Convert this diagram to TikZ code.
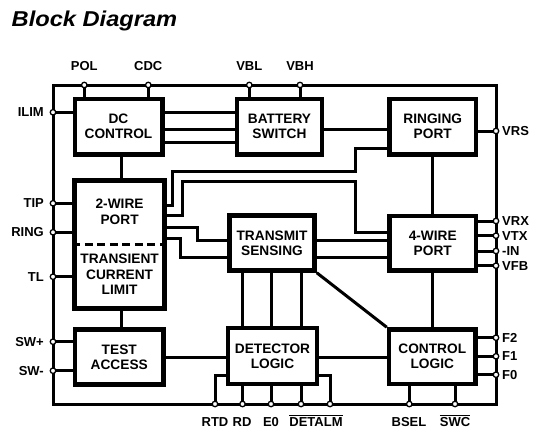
\documentclass[tikz,border=0pt]{standalone}
\usepackage{fontspec}
\setmainfont{Liberation Sans}
\newfontfamily\titlefont[FakeStretch=1.1]{Liberation Sans}
\begin{document}
\begin{tikzpicture}[x=1pt,y=-1pt,
  frame/.style={line width=3pt},
  wire/.style={line width=3pt},
  blk/.style={draw,line width=4.5pt,align=center,inner sep=0pt,
    font=\fontsize{13.7}{15}\selectfont\bfseries},
  blktext/.style={align=center,inner sep=0pt,font=\fontsize{13.7}{15.5}\selectfont\bfseries},
  pin/.style={circle,draw,fill=white,line width=1.3pt,inner sep=0pt,minimum size=5.5pt},
  lab/.style={inner sep=0pt,font=\fontsize{13}{15}\selectfont\bfseries}]
\useasboundingbox (0,0) rectangle (541,439);

% title
\node[anchor=base west,inner sep=0pt,font=\titlefont\fontsize{21.5}{24}\selectfont\bfseries\itshape] (title) at (11.5,26.7) {Block Diagram};

% frame
\node[draw,frame,minimum width=443pt,minimum height=319pt,inner sep=0pt,outer sep=0pt] (chip) at (274.5,244.5) {};

% blocks
\node[blk,minimum width=87.5pt,minimum height=55.5pt] (dc) at (118.5,126.5) {DC\\CONTROL};
\node[blk,minimum width=85pt,minimum height=55.5pt] (bs) at (279.5,126.5) {BATTERY\\SWITCH};
\node[blk,minimum width=86.5pt,minimum height=55.5pt] (rp) at (432.75,126.5) {RINGING\\PORT};
\node[blk,minimum width=90pt,minimum height=128pt] (tw) at (119.6,244.4) {};
\node[blktext] (twt) at (119.6,212) {2-WIRE\\PORT};
\node[blktext] (tcl) at (119.6,274.5) {TRANSIENT\\CURRENT\\LIMIT};
\node[blk,minimum width=88.5pt,minimum height=55pt] (ta) at (119.25,357) {TEST\\ACCESS};
\node[blk,minimum width=85pt,minimum height=55pt] (ts) at (272,243) {TRANSMIT\\SENSING};
\node[blk,minimum width=86.5pt,minimum height=54.5pt] (fw) at (432.75,243.25) {4-WIRE\\PORT};
\node[blk,minimum width=89pt,minimum height=56pt] (dl) at (272.5,356) {DETECTOR\\LOGIC};
\node[blk,minimum width=86.5pt,minimum height=54.5pt] (cl) at (432.25,356.75) {CONTROL\\LOGIC};
\draw[line width=3pt,dash pattern=on 8pt off 4.5pt] (tw.west |- 0,244) -- (tw.east |- 0,244);

% pins (coordinates)
\coordinate (pol) at (84.3,85);
\coordinate (cdc) at (148.3,85);
\coordinate (vbl) at (249.3,85);
\coordinate (vbh) at (300,85);
\coordinate (ilim) at (53,112.3);
\coordinate (tip) at (53,203.3);
\coordinate (ring) at (53,232.3);
\coordinate (tl) at (53,276.7);
\coordinate (swp) at (53,341.7);
\coordinate (swm) at (53,370.7);
\coordinate (vrs) at (496,131);
\coordinate (vrx) at (496,221);
\coordinate (vtx) at (496,235.7);
\coordinate (nin) at (496,251);
\coordinate (vfb) at (496,265.7);
\coordinate (ftwo) at (496,337.7);
\coordinate (fone) at (496,356.3);
\coordinate (fzero) at (496,374.7);
\coordinate (rtd) at (215,404);
\coordinate (rd) at (242.5,404);
\coordinate (ezero) at (271,404);
\coordinate (da) at (301,404);
\coordinate (db) at (330,404);
\coordinate (bsel) at (409.3,404);
\coordinate (swc) at (455,404);

% pin connectors
\draw[wire] (pol) -- (pol |- dc.north);
\draw[wire] (cdc) -- (cdc |- dc.north);
\draw[wire] (vbl) -- (vbl |- bs.north);
\draw[wire] (vbh) -- (vbh |- bs.north);
\draw[wire] (ilim) -- (ilim -| dc.west);
\draw[wire] (tip) -- (tip -| tw.west);
\draw[wire] (ring) -- (ring -| tw.west);
\draw[wire] (tl) -- (tl -| tw.west);
\draw[wire] (swp) -- (swp -| ta.west);
\draw[wire] (swm) -- (swm -| ta.west);
\draw[wire] (vrs) -- (vrs -| rp.east);
\draw[wire] (vrx) -- (vrx -| fw.east);
\draw[wire] (vtx) -- (vtx -| fw.east);
\draw[wire] (nin) -- (nin -| fw.east);
\draw[wire] (vfb) -- (vfb -| fw.east);
\draw[wire] (ftwo) -- (ftwo -| cl.east);
\draw[wire] (fone) -- (fone -| cl.east);
\draw[wire] (fzero) -- (fzero -| cl.east);
\draw[wire] (rtd) -- (rtd |- 0,375.5) -- (dl.west |- 0,375.5);
\draw[wire] (rd) -- (rd |- dl.south);
\draw[wire] (ezero) -- (ezero |- dl.south);
\draw[wire] (da) -- (da |- dl.south);
\draw[wire] (db) -- (db |- 0,375.5) -- (dl.east |- 0,375.5);
\draw[wire] (bsel) -- (bsel |- cl.south);
\draw[wire] (swc) -- (swc |- cl.south);

% internal connectors
\draw[wire] (dc.east |- 0,112.5) -- (bs.west |- 0,112.5);
\draw[wire] (dc.east |- 0,129) -- (bs.west |- 0,129);
\draw[wire] (dc.east |- 0,142.5) -- (bs.west |- 0,142.5);
\draw[wire] (bs.east |- 0,129) -- (rp.west |- 0,129);
\draw[wire] (dc.south -| 121,0) -- (tw.north -| 121,0);
\draw[wire] (tw.south -| 121,0) -- (ta.north -| 121,0);
\draw[wire] (rp.south -| 432,0) -- (fw.north -| 432,0);
\draw[wire] (fw.south -| 432,0) -- (cl.north -| 432,0);
\draw[wire] (ta.east |- 0,357.5) -- (dl.west |- 0,357.5);
\draw[wire] (dl.east |- 0,357.5) -- (cl.west |- 0,357.5);
\draw[wire] (rd |- ts.south) -- (rd |- dl.north);
\draw[wire] (ezero |- ts.south) -- (ezero |- dl.north);
\draw[wire] (da |- ts.south) -- (da |- dl.north);
\draw[wire] (ts.south east) -- (cl.north west);
\draw[wire] (ts.east |- 0,240) -- (fw.west |- 0,240);
\draw[wire] (ts.east |- 0,257) -- (fw.west |- 0,257);
\draw[wire] (tw.east |- 0,227) -- (197.5,227) -- (197.5,240) -- (ts.west |- 0,240);
\draw[wire] (tw.east |- 0,238) -- (180.5,238) -- (180.5,257) -- (ts.west |- 0,257);
\draw[wire] (tw.east |- 0,205) -- (172.7,205) -- (172.7,171.7) -- (355.7,171.7) -- (355.7,148.3) -- (rp.west |- 0,148.3);
\draw[wire] (tw.east |- 0,215) -- (182.7,215) -- (182.7,181.7) -- (355.7,181.7) -- (355.7,232.7) -- (fw.west |- 0,232.7);

% pin circles
\foreach \p in {pol,cdc,vbl,vbh,ilim,tip,ring,tl,swp,swm,vrs,vrx,vtx,nin,vfb,ftwo,fone,fzero,rtd,rd,ezero,da,db,bsel,swc}
  \node[pin] (c\p) at (\p) {};

% labels
\node[lab,anchor=base] (lpol) at (84.3,70.7) {POL};
\node[lab,anchor=base] (lcdc) at (148.3,70.7) {CDC};
\node[lab,anchor=base] (lvbl) at (249.3,70.7) {VBL};
\node[lab,anchor=base] (lvbh) at (300,70.7) {VBH};
\node[lab,anchor=east] (lilim) at (44,112.3) {ILIM};
\node[lab,anchor=east] (ltip) at (44,203.3) {TIP};
\node[lab,anchor=east] (lring) at (44,232.3) {RING};
\node[lab,anchor=east] (ltl) at (44,276.7) {TL};
\node[lab,anchor=east] (lswp) at (44,341.7) {SW+};
\node[lab,anchor=east] (lswm) at (44,370.7) {SW-};
\node[lab,anchor=west] (lvrs) at (502,131) {VRS};
\node[lab,anchor=west] (lvrx) at (502,221) {VRX};
\node[lab,anchor=west] (lvtx) at (502,235.7) {VTX};
\node[lab,anchor=west] (lnin) at (502,251) {-IN};
\node[lab,anchor=west] (lvfb) at (502,265.7) {VFB};
\node[lab,anchor=west] (lftwo) at (502,337.7) {F2};
\node[lab,anchor=west] (lfone) at (502,356.3) {F1};
\node[lab,anchor=west] (lfzero) at (502,374.7) {F0};
\node[lab,anchor=base] (lrtd) at (215,426) {RTD};
\node[lab,anchor=base] (lrd) at (242,426) {RD};
\node[lab,anchor=base] (lezero) at (271,426) {E0};
\node[lab,anchor=base] (ldetalm) at (316,426) {$\overline{\hbox{DETALM}}$};
\node[lab,anchor=base] (lbsel) at (409,426) {BSEL};
\node[lab,anchor=base] (lswc) at (455,426) {$\overline{\hbox{SWC}}$};
\end{tikzpicture}
\end{document}
